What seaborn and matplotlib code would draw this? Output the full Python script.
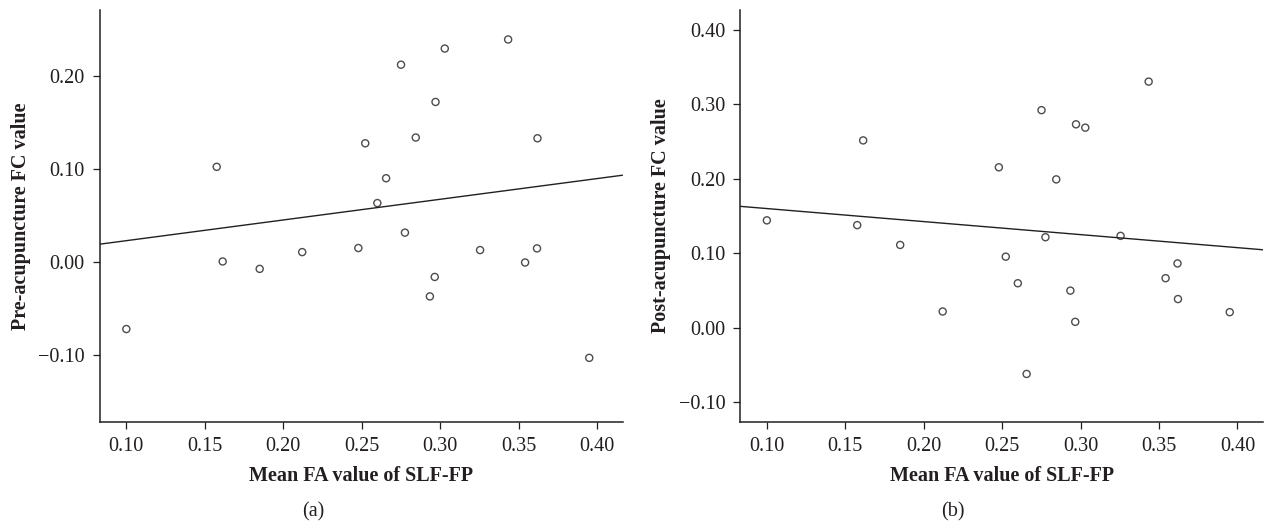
import pandas as pd
import matplotlib
matplotlib.use('Agg')
from matplotlib import pyplot as plt
import seaborn as sns

# mean FA value of SLF-FP (same subjects in both panels)
fa_values = [0.100, 0.1576, 0.1614, 0.185, 0.2121, 0.2479, 0.2523, 0.260, 0.2656, 0.2751, 0.2776,
             0.2845, 0.2935, 0.2966, 0.2971, 0.3030, 0.3255, 0.3434, 0.3542, 0.3618, 0.3621, 0.3951]
# FC values before acupuncture
pre_fc = [-0.0725, 0.1025, 0.0004, -0.0076, 0.0105, 0.0149, 0.1279, 0.0634, 0.0902, 0.2127, 0.0315,
          0.1341, -0.0373, -0.0163, 0.1725, 0.2301, 0.0127, 0.2399, -0.0007, 0.0145, 0.1333, -0.1036]
# FC values after acupuncture
post_fc = [0.1439, 0.1375, 0.2512, 0.1109, 0.0216, 0.2151, 0.0952, 0.0595, -0.0622, 0.2918, 0.1213,
           0.1989, 0.0496, 0.0077, 0.2728, 0.2683, 0.1231, 0.3301, 0.0663, 0.0861, 0.0383, 0.0207]

xticks = [0.10, 0.15, 0.20, 0.25, 0.30, 0.35, 0.40]
xtick_labels = ['0.10', '0.15', '0.20', '0.25', '0.30', '0.35', '0.40']
yticks_a = [-0.10, 0.00, 0.10, 0.20]
ytick_labels_a = ['\u22120.10', '0.00', '0.10', '0.20']
yticks_b = [-0.10, 0.00, 0.10, 0.20, 0.30, 0.40]
ytick_labels_b = ['\u22120.10', '0.00', '0.10', '0.20', '0.30', '0.40']

x_label = 'Mean FA value of SLF-FP'
y_label_a = 'Pre-acupuncture FC value'
y_label_b = 'Post-acupuncture FC value'

data = pd.DataFrame({'fa': fa_values, 'pre': pre_fc, 'post': post_fc})

sns.set_style('ticks')
plt.rcParams['font.family'] = ['Liberation Serif', 'DejaVu Serif']
ink = '#231f20'

fig = plt.figure(figsize=(12.65, 5.26), dpi=100)
ax_a = fig.add_axes([100 / 1265, 1 - 422 / 526, 522.5 / 1265, 412 / 526])
ax_b = fig.add_axes([740.5 / 1265, 1 - 422 / 526, 522.5 / 1265, 412 / 526])

panels = [(ax_a, 'pre', yticks_a, ytick_labels_a, y_label_a, (-0.1728, 0.2717), '(a)', 313),
          (ax_b, 'post', yticks_b, ytick_labels_b, y_label_b, (-0.1267, 0.4262), '(b)', 953)]

for ax, col, yt, ytl, ylab, ylim, tag, tag_x in panels:
    ax.set_xlim(0.0832, 0.4163)
    sns.regplot(data=data, x='fa', y=col, ax=ax, ci=None, truncate=False,
                scatter_kws={'s': 26, 'facecolors': 'none', 'edgecolors': ink, 'linewidths': 1.0},
                line_kws={'color': ink, 'lw': 1.0})
    ax.set_xlim(0.0832, 0.4163)
    ax.set_ylim(*ylim)
    ax.set_xticks(xticks)
    ax.set_xticklabels(xtick_labels)
    ax.set_yticks(yt)
    ax.set_yticklabels(ytl)
    ax.tick_params(axis='both', direction='out', length=5, width=0.9, color=ink,
                   labelsize=14.6, labelcolor=ink, pad=6)
    for side in ['top', 'right']:
        ax.spines[side].set_visible(False)
    for side in ['left', 'bottom']:
        ax.spines[side].set_color(ink)
        ax.spines[side].set_linewidth(1.1)
    ax.set_xlabel(x_label, fontsize=14.5, fontweight='bold', color=ink)
    ax.set_ylabel(ylab, fontsize=14.5, fontweight='bold', color=ink)
    ax.xaxis.set_label_coords(0.5, -0.106)
    ax.yaxis.set_label_coords(-0.133, 0.5)
    fig.text(tag_x / 1265, 1 - 512 / 526, tag, ha='center', va='center', fontsize=14.5, color=ink)

fig.savefig('out.png', dpi=100)
